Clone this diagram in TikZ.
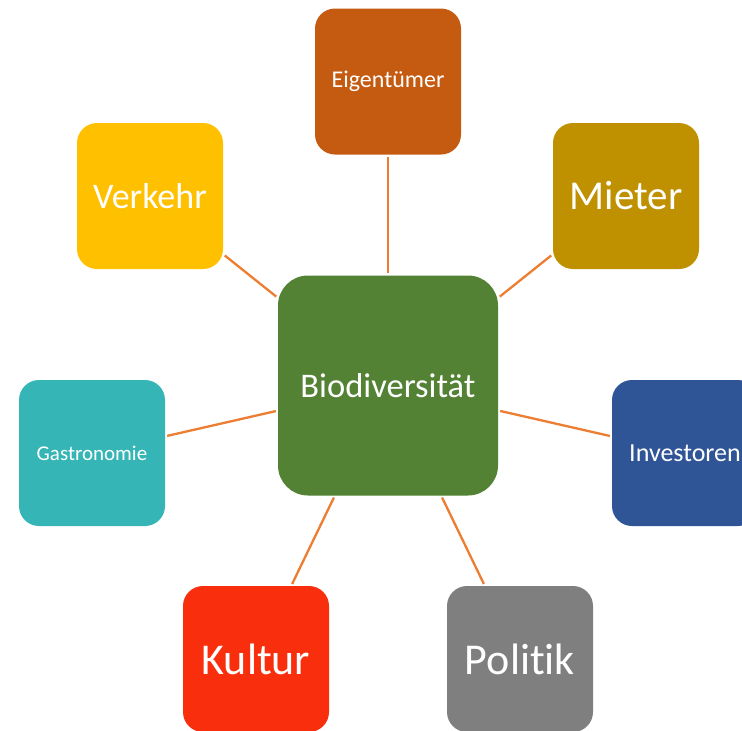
\documentclass[tikz,border=0pt]{standalone}
\usepackage{fontspec}
\setmainfont[Ligatures={NoCommon}]{Carlito}
\definecolor{cgreen}{HTML}{548235}
\definecolor{corange}{HTML}{C55A11}
\definecolor{cgold}{HTML}{BF9000}
\definecolor{cyellow}{HTML}{FFC000}
\definecolor{cteal}{HTML}{35B5B5}
\definecolor{cblue}{HTML}{2F5597}
\definecolor{cred}{HTML}{F82E0C}
\definecolor{cgray}{HTML}{7F7F7F}
\definecolor{cline}{HTML}{ED7D31}
\tikzset{
  box/.style={rectangle, rounded corners=20pt, minimum width=146pt, minimum height=146pt, inner sep=0pt, text=white, font=\fontsize{#1}{#1}\selectfont},
  hub/.style={rectangle, rounded corners=30pt, fill=cgreen, minimum width=220pt, minimum height=220pt, inner sep=0pt, text=white, font=\fontsize{34.5}{34.5}\selectfont},
  link/.style={draw=cline, line width=2.3pt, shorten <=2pt, shorten >=2pt}
}
\begin{document}
\begin{tikzpicture}[x=1pt,y=-1pt]
\useasboundingbox (0,0) rectangle (742,731);
\clip (0,0) rectangle (742,731);
\fill[white] (0,0) rectangle (742,731);
\node[hub] (c) at (388,385.5) {Biodiversität};
\node[box=24, fill=corange] (eig) at (388,81.5) {Eigentümer};
\node[box=41, fill=cgold] (mie) at (626,196) {Mieter};
\node[box=36, fill=cyellow] (ver) at (150,196) {Verkehr};
\node[box=21, fill=cteal] (gas) at (92,453) {Gastronomie};
\node[box=26, fill=cblue] (inv) at (685,453) {Investoren};
\node[box=44, fill=cred] (kul) at (256,659) {Kultur};
\node[box=44, fill=cgray] (pol) at (520,659) {Politik};
\draw[link] (c) -- (eig);
\draw[link] (c) -- (mie);
\draw[link] (c) -- (ver);
\draw[link] (c) -- (gas);
\draw[link] (c) -- (inv);
\draw[link] (c) -- (kul);
\draw[link] (c) -- (pol);
\end{tikzpicture}
\end{document}
